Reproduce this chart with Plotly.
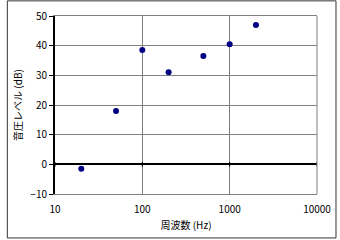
import plotly.graph_objects as go

freq_hz = [20, 50, 100, 200, 500, 1000, 2000]
level_db = [-1.5, 18, 38.5, 31, 36.5, 40.5, 47]
x_ticks = [10, 100, 1000, 10000]
x_tick_labels = ["10", "100", "1000", "10000"]

FONT = "Noto Sans CJK JP, sans-serif"
GRID = "#808080"

fig = go.Figure()
fig.add_trace(go.Scatter(
    x=freq_hz, y=level_db, mode="markers",
    marker=dict(color="#000080", size=6, symbol="circle"),
    showlegend=False, cliponaxis=False,
))

shapes = []
for t in x_ticks:
    shapes.append(dict(type="line", xref="x", yref="y", x0=t, x1=t, y0=-0.8, y1=0.8,
                       line=dict(color="black", width=1)))
shapes.append(dict(type="rect", xref="paper", yref="paper",
                   x0=-0.182, x1=1.0725, y0=-0.247, y1=1.085,
                   line=dict(color="#333333", width=1)))
shapes.append(dict(type="line", xref="paper", yref="paper", x0=1, x1=1, y0=0, y1=1,
                   line=dict(color=GRID, width=1)))

fig.update_layout(
    template="none",
    width=340, height=240,
    margin=dict(l=55, r=23, t=16, b=46),
    paper_bgcolor="white", plot_bgcolor="white",
    font=dict(family=FONT, size=10, color="black"),
    shapes=shapes,
    xaxis=dict(
        type="log", range=[1, 4],
        tickvals=x_ticks, ticktext=x_tick_labels,
        showgrid=True, gridcolor=GRID, gridwidth=1,
        showline=True, linecolor=GRID, linewidth=1, mirror=True,
        ticks="outside", ticklen=6, tickcolor="rgba(0,0,0,0)",
        zeroline=False,
        title=dict(text="周波数 (Hz)", font=dict(size=10), standoff=6),
        tickfont=dict(size=10),
    ),
    yaxis=dict(
        range=[-10, 50], dtick=10,
        showgrid=True, gridcolor=GRID, gridwidth=1,
        showline=True, linecolor="black", linewidth=2,
        ticks="outside", ticklen=4, tickcolor="black",
        zeroline=True, zerolinecolor="black", zerolinewidth=2,
        title=dict(text="音圧レベル (dB)", font=dict(size=10), standoff=6),
        tickfont=dict(size=10),
    ),
)

fig.write_html("out.html")
